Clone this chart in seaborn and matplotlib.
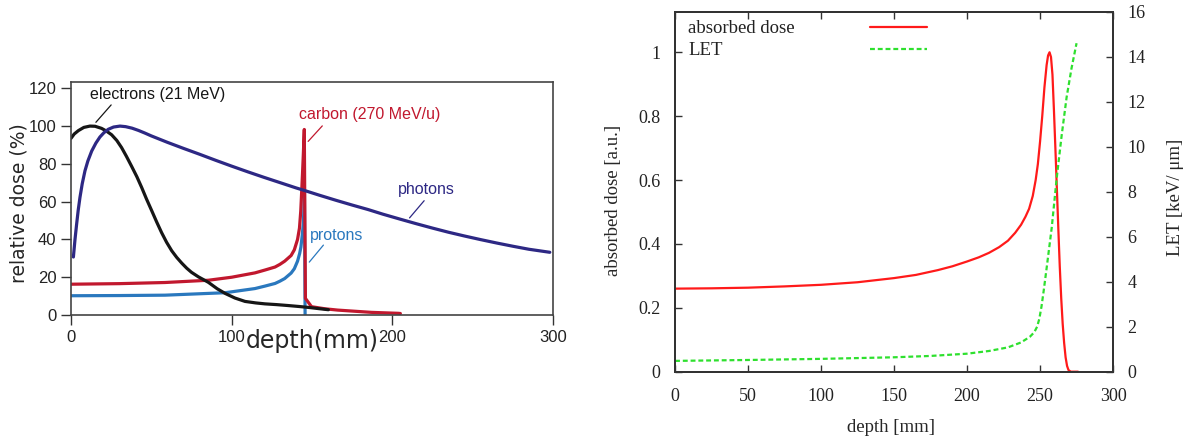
import numpy as np
import seaborn as sns
import matplotlib.pyplot as plt
from matplotlib.lines import Line2D

sns.set_style("ticks")
plt.rcParams['font.family'] = ['DejaVu Sans']

narrow = ['Liberation Sans Narrow', 'Liberation Sans', 'DejaVu Sans']
serif = ['Liberation Serif', 'DejaVu Serif']

# ---- left panel: relative depth dose (%) vs depth (mm)
elec_x = [0, 2, 4.6, 8, 11.8, 15, 19, 22, 25.3, 28.5, 31.5, 34.5, 37.8, 41, 44, 47, 50.2, 53.3,
          56.4, 59.5, 62.7, 65.8, 68.9, 72, 75, 79.3, 85.5, 91, 96, 102, 108.3, 115, 120.7,
          128, 135.3, 142, 148, 154, 160.2]
elec_y = [93.5, 95.8, 97.6, 99.3, 100, 99.9, 98.8, 97.4, 95.4, 92.4, 88.6, 84, 78.6, 73.2,
          67.5, 61.4, 55.3, 49.3, 43.6, 38.5, 34, 30.5, 27.5, 24.8, 22.6, 20.2, 17.3, 13.9,
          11.4, 9, 7.2, 6.4, 5.9, 5.5, 5, 4.5, 4, 3.4, 2.8]

phot_x = [1.5, 2.5, 3.5, 4.5, 5.6, 7, 8.7, 10.5, 12.9, 15.5, 18, 20.5, 23.2, 26.5, 30.5, 34,
          38, 42, 46, 50, 55, 60, 70, 80, 90, 100, 110, 120, 130, 140, 145, 155, 165, 175,
          185, 194, 205, 215, 225, 235, 245, 255, 265, 275, 285, 298]
phot_y = [30.7, 40, 48, 55.5, 62.3, 69.5, 76.3, 81.5, 86.8, 91, 94.2, 96.5, 98.3, 99.5, 100,
          99.7, 98.9, 97.7, 96.3, 94.8, 93.1, 91.4, 88.2, 85.1, 81.9, 78.8, 75.8, 72.9, 70.1,
          67.3, 66, 63.3, 60.7, 58.2, 55.8, 53.4, 50.7, 48.3, 46, 43.8, 41.8, 39.9, 38.1,
          36.4, 34.8, 33.2]

carb_x = [0, 30, 58.5, 85.5, 100, 114.5, 120.7, 127, 130, 133, 137, 139, 141, 142.2, 143,
          143.6, 144.1, 144.6, 145.2, 145.9, 149.7, 158, 166, 187, 203.7, 205]
carb_y = [16.3, 16.6, 17.2, 18.4, 20, 22.3, 23.8, 25.4, 26.8, 28.5, 31.5, 34.5, 40, 46, 55,
          65.8, 75, 85, 98.2, 8.8, 4.4, 3.3, 2.6, 1.4, 0.9, 0.8]

prot_x = [0, 30, 58.5, 96, 114.5, 120.7, 127, 130, 133, 137, 139, 141, 142.3, 143.1, 143.9,
          144.6, 145, 145.3, 145.7]
prot_y = [10.2, 10.3, 10.5, 11.8, 14, 15.3, 16.7, 17.9, 19.3, 22.2, 24.5, 28.5, 32.5, 36, 42,
          48.2, 56, 65, 0]

left_xticks = [0, 100, 200, 300]
left_yticks = [0, 20, 40, 60, 80, 100, 120]

# ---- right panel: absorbed dose [a.u.] and LET [keV/um] vs depth [mm]
dose_x = [0, 25, 50, 75, 100, 125, 150, 165, 180, 190, 200, 208, 215, 222, 228, 233, 237, 240,
          242.5, 245, 247, 248.5, 250, 251.5, 253, 254.5, 255.5, 256.5, 257.5, 258.5, 259.5,
          260.5, 261.5, 262.5, 263.5, 264.5, 265.5, 266.5, 267.5, 268.5, 269.5, 271, 276]
dose_y = [0.26, 0.261, 0.263, 0.267, 0.272, 0.28, 0.293, 0.303, 0.318, 0.33, 0.345, 0.358,
          0.372, 0.39, 0.41, 0.435, 0.46, 0.485, 0.51, 0.55, 0.6, 0.65, 0.72, 0.8, 0.89, 0.96,
          0.99, 1.0, 0.985, 0.93, 0.82, 0.7, 0.575, 0.45, 0.33, 0.23, 0.15, 0.09, 0.045, 0.018,
          0.005, 0.0, 0.0]

let_x = [0, 50, 100, 150, 175, 200, 215, 228, 237, 243, 246, 248, 249.5, 251, 252.5, 254.5,
         258, 261.4, 264.8, 268.2, 271.6, 275]
let_y = [0.48, 0.52, 0.57, 0.64, 0.7, 0.8, 0.92, 1.08, 1.3, 1.55, 1.75, 2.0, 2.35, 2.9, 3.6,
         4.6, 6.4, 8.6, 10.5, 12.2, 13.5, 14.6]

right_xticks = [0, 50, 100, 150, 200, 250, 300]
dose_ticks = [0, 0.2, 0.4, 0.6, 0.8, 1]
let_ticks = [0, 2, 4, 6, 8, 10, 12, 14, 16]

fig = plt.figure(figsize=(11.87, 4.38), dpi=100)

# left panel
ax1 = fig.add_axes([0.0598, 0.2808, 0.4061, 0.5327])
kw = dict(estimator=None, sort=False, legend=False)
sns.lineplot(x=prot_x, y=prot_y, ax=ax1, color='#2a78be', lw=2.3, **kw)
sns.lineplot(x=carb_x, y=carb_y, ax=ax1, color='#c1182e', lw=2.3, **kw)
sns.lineplot(x=elec_x, y=elec_y, ax=ax1, color='#161616', lw=2.3, **kw)
sns.lineplot(x=phot_x, y=phot_y, ax=ax1, color='#2d2884', lw=2.3, **kw)

ax1.set_xlim(0, 300)
ax1.set_ylim(0, 123.5)
ax1.set_xticks(left_xticks)
ax1.set_yticks(left_yticks)
ax1.tick_params(axis='both', direction='out', length=7.5, width=1, color='#333333',
                labelsize=12, pad=3, labelcolor='#222222')
for lab in ax1.get_xticklabels() + ax1.get_yticklabels():
    lab.set_family(narrow)
for s in ax1.spines.values():
    s.set_color('#444444')
    s.set_linewidth(1.2)

ax1.set_xlabel('depth(mm)', fontsize=17, va='center')
ax1.xaxis.set_label_coords(0.5, -0.111)
ax1.set_ylabel('relative dose (%)', fontsize=13.5, va='center')
ax1.yaxis.set_label_coords(-0.108, 0.48)

labels = [
    ('electrons (21 MeV)', (11.9, 116.5), (15.5, 102), (25, 111.2), '#161616'),
    ('carbon (270 MeV/u)', (141.7, 106), (147.6, 91.9), (156.4, 100.1), '#c1182e'),
    ('photons', (203.6, 66.3), (210.7, 51.4), (219.8, 60.5), '#2d2884'),
    ('protons', (148.8, 42.2), (148.3, 28), (157.1, 37), '#2a78be'),
]
for txt, pos, p0, p1, col in labels:
    ax1.text(pos[0], pos[1], txt, color=col, fontsize=11.5, family=narrow,
             ha='left', va='center')
    ax1.annotate('', xy=p0, xytext=p1,
                 arrowprops=dict(arrowstyle='-', color=col, lw=0.9, shrinkA=0, shrinkB=0))

# right panel
ax2 = fig.add_axes([0.5687, 0.1514, 0.3690, 0.8219])
sns.lineplot(x=dose_x, y=dose_y, ax=ax2, color='#ff1a1a', lw=1.6, **kw)
ax3 = ax2.twinx()
sns.lineplot(x=let_x, y=let_y, ax=ax3, color='#2ee02e', lw=1.6,
             linestyle=(0, (2.2, 1.3)), **kw)

ax2.set_xlim(0, 300)
ax2.set_ylim(0, 1.127)
ax3.set_ylim(0, 16)
ax2.set_xticks(right_xticks)
ax2.set_yticks(dose_ticks)
ax2.set_yticklabels(['0', '0.2', '0.4', '0.6', '0.8', '1'])
ax3.set_yticks(let_ticks)

ax2.tick_params(axis='x', direction='in', length=5, width=1, top=True, labelsize=13,
                pad=12, colors='#333333', labelcolor='#222222')
ax2.tick_params(axis='y', direction='in', length=5, width=1, right=False, labelsize=13,
                pad=10.5, colors='#333333', labelcolor='#222222')
ax3.tick_params(axis='y', direction='in', length=5, width=1, labelsize=13,
                pad=10.5, colors='#333333', labelcolor='#222222')
for lab in (ax2.get_xticklabels() + ax2.get_yticklabels() + ax3.get_yticklabels()):
    lab.set_family(serif)
for a in (ax2, ax3):
    for s in a.spines.values():
        s.set_color('#333333')
        s.set_linewidth(1.4)

ax2.set_xlabel('depth [mm]', fontsize=13.5, family=serif, va='center')
ax2.xaxis.set_label_coords(0.493, -0.154)
ax2.set_ylabel('absorbed dose [a.u.]', fontsize=13.5, family=serif, va='center')
ax2.yaxis.set_label_coords(-0.1416, 0.477)
ax3.set_ylabel('LET [keV/ μm]', fontsize=13.5, family=serif, va='center')
ax3.yaxis.set_label_coords(1.1416, 0.485)

# gnuplot-style key: text on the left, line sample further right
key = [('absorbed dose', 0.953, dict(color='#ff1a1a', lw=1.6)),
       ('LET', 0.893, dict(color='#2ee02e', lw=1.6, linestyle=(0, (2.2, 1.3))))]
for txt, yk, style in key:
    ax2.text(0.030, yk, txt, transform=ax2.transAxes, fontsize=13.5, family=serif,
             ha='left', va='center', color='#222222')
    ax2.add_line(Line2D([0.444, 0.575], [yk + 0.004, yk + 0.004],
                        transform=ax2.transAxes, **style))

fig.savefig('out.png', dpi=100)
